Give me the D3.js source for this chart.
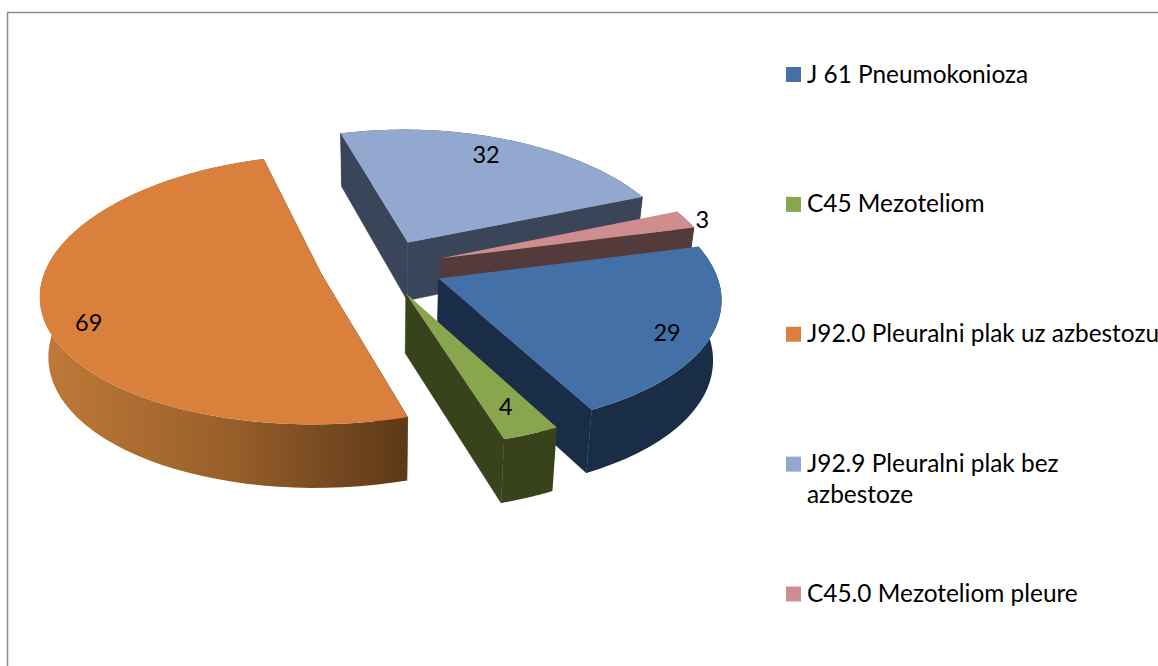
<!DOCTYPE html>
<html>
<head>
  <meta charset="UTF-8">
  <style>
    html, body { margin: 0; padding: 0; background: #fff; overflow: hidden; }
    svg { display: block; }
    text { font-family: Lato, "Open Sans", sans-serif; fill: #000; }
  </style>
</head>
<body>
<svg></svg>
<script src="https://d3js.org/d3.v7.min.js"></script>
<script>

const categories = ["J 61 Pneumokonioza", "C45 Mezoteliom", "J92.0 Pleuralni plak uz azbestozu", "J92.9 Pleuralni plak bez\nazbestoze", "C45.0 Mezoteliom pleure"];
const values = [29, 4, 69, 32, 3];
const topColors = ["#4470a8", "#89a54e", "#d8803c", "#93a8cf", "#ce8e8d"];
const sideColors = ["#1a2d46", "#38431c", "url(#orangeSide)", "#3b4559", "#533a3b"];

let width = 1158, height = 666;
let svg = d3.select("svg").attr("width", width).attr("height", height);

// pie layout + fake 3d projection
const cx = 381.5, cy = 267, rx = 276, ry = 133, perspX = 0.14, perspY = 0.11;
const explodeX = 0.2235, explodeY = 0.21, depth = 59, depthPersp = 0.135, bottomScale = 0.975;
const startAngle = 76 * Math.PI / 180;
const labelFrac = [0.855, 0.815, 0.86, 0.83, 1.06];
const labelTurn = [2, 0, -6.5, -2, 1];
const drawOrder = [3, 4, 0, 1, 2];

let arcs = d3.pie().sort(null).startAngle(startAngle).endAngle(startAngle + 2 * Math.PI)(values);

function topPt(p) {
  return [cx + rx * p[0] * (1 + perspX * p[1]), cy + ry * p[1] * (1 + perspY * p[1])];
}
function botPt(p) {
  let q = topPt(p);
  return [cx + (q[0] - cx) * bottomScale, cy + (q[1] - cy) * bottomScale + depth * (1 + depthPersp * p[1])];
}
// disc coordinates of a point of slice d
function disc(d, t, r) {
  let mid = (d.startAngle + d.endAngle) / 2;
  return [r * Math.sin(t) + explodeX * Math.sin(mid), -r * Math.cos(t) - explodeY * Math.cos(mid)];
}
let line = d3.line();

let defs = svg.append("defs");
let grad = defs.append("linearGradient").attr("id", "orangeSide")
  .attr("gradientUnits", "userSpaceOnUse")
  .attr("x1", 42).attr("x2", 409).attr("y1", 0).attr("y2", 0);
grad.append("stop").attr("offset", 0).attr("stop-color", "#c07a38");
grad.append("stop").attr("offset", 0.5).attr("stop-color", "#99602b");
grad.append("stop").attr("offset", 1).attr("stop-color", "#5c3817");

// chart frame, runs off the picture on the right and bottom
svg.append("rect").attr("x", 7.5).attr("y", 12.5).attr("width", 1400).attr("height", 900)
  .attr("fill", "none").attr("stroke", "#8a8a8a").attr("stroke-width", 1.5);

let pie = svg.append("g");

drawOrder.forEach(i => {
  let d = arcs[i];
  let g = pie.append("g");
  let apex = disc(d, 0, 0);
  let ts = d3.range(0, 61).map(k => d.startAngle + (d.endAngle - d.startAngle) * k / 60);

  // cut faces, only those turned to the viewer
  [d.startAngle, d.endAngle].forEach(t => {
    let e = disc(d, t, 1);
    let a = topPt(apex), b = topPt(e);
    let other = topPt(disc(d, t === d.startAngle ? d.endAngle : d.startAngle, 1));
    let lineY = a[1] + (b[1] - a[1]) * (other[0] - a[0]) / (b[0] - a[0]);
    // rest of the slice has to lie above this edge on screen for the face to show
    if (other[1] < lineY) {
      g.append("path").attr("d", line([a, b, botPt(e), botPt(apex)]) + "Z")
        .attr("fill", sideColors[i]).attr("stroke", sideColors[i]).attr("stroke-width", 0.5);
    }
  });

  // outer band
  let up = ts.map(t => topPt(disc(d, t, 1)));
  let down = ts.map(t => botPt(disc(d, t, 1))).reverse();
  g.append("path").attr("d", line(up.concat(down)) + "Z").attr("fill", sideColors[i]);

  // top face
  g.append("path").attr("d", line([topPt(apex)].concat(up)) + "Z")
    .attr("fill", topColors[i]);
});

// value labels
arcs.forEach((d, i) => {
  let mid = (d.startAngle + d.endAngle) / 2 + labelTurn[i] * Math.PI / 180;
  let xy = topPt(disc(d, mid, labelFrac[i]));
  svg.append("text").attr("x", xy[0]).attr("y", xy[1])
    .attr("text-anchor", "middle").attr("dominant-baseline", "central")
    .style("font-size", "23.5px").text(values[i]);
});

// legend
let legendY = d3.scalePoint().domain(categories).range([74.5, 594]);
categories.forEach((c, i) => {
  let y = legendY(c);
  svg.append("rect").attr("x", 786).attr("y", y - 7.5).attr("width", 15).attr("height", 15)
    .attr("fill", topColors[i]);
  let t = svg.append("text").attr("x", 807).attr("y", y + 8).style("font-size", "24.4px");
  c.split("\n").forEach((s, k) => {
    t.append("tspan").attr("x", 807).attr("dy", k ? 31 : 0).text(s);
  });
});

</script>
</body>
</html>
